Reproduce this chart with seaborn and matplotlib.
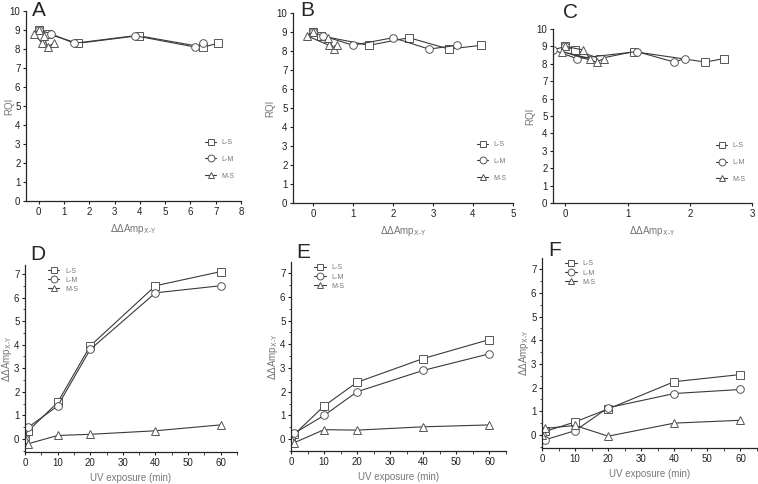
import numpy as np
import pandas as pd
import matplotlib
matplotlib.use("Agg")
import matplotlib.pyplot as plt
from matplotlib.ticker import MultipleLocator
import seaborn as sns

# UV exposure time points (min) and RQI measured at each time point
uv_time = [0, 1, 10, 20, 40, 60]
rqi = [9.0, 8.8, 8.3, 8.7, 8.1, 8.3]

series = ["L-S", "L-M", "M-S"]
markers = {"L-S": "s", "L-M": "o", "M-S": "^"}

# ddAmp(X-Y) per panel and pair, at each UV time point
damp_d = {
    "L-S": [0.0, 0.35, 1.55, 3.95, 6.5, 7.1],
    "L-M": [0.0, 0.5, 1.4, 3.8, 6.2, 6.5],
    "M-S": [0.0, -0.2, 0.15, 0.2, 0.35, 0.6],
}
damp_e = {
    "L-S": [0.0, 0.2, 1.4, 2.4, 3.4, 4.2],
    "L-M": [0.0, 0.25, 1.0, 2.0, 2.9, 3.6],
    "M-S": [0.0, -0.15, 0.4, 0.38, 0.52, 0.6],
}
damp_f = {
    "L-S": [0.0, 0.15, 0.55, 1.1, 2.25, 2.55],
    "L-M": [0.0, -0.2, 0.18, 1.15, 1.75, 1.92],
    "M-S": [0.0, 0.28, 0.4, -0.05, 0.5, 0.62],
}

sns.set_style("ticks")
plt.rcParams["font.family"] = ["Liberation Sans", "DejaVu Sans"]
plt.rcParams["axes.linewidth"] = 0.9

W, H = 758, 484
fig = plt.figure(figsize=(W / 100, H / 100), dpi=100)


def px_axes(x0, x1, y0, y1):
    return fig.add_axes([x0 / W, 1 - y1 / H, (x1 - x0) / W, (y1 - y0) / H])


line_col = "#3a3a3a"
label_col = "#777777"


def draw(ax, xs_by, ys_by, sort):
    for s in series:
        sns.lineplot(x=xs_by[s], y=ys_by[s], ax=ax, sort=sort, estimator=None,
                     marker=markers[s], markersize=5.5, markerfacecolor="white",
                     markeredgecolor="#555555", markeredgewidth=0.7,
                     color=line_col, linewidth=0.8, label=s)


def style(ax, letter, lx, ly):
    sns.despine(ax=ax)
    ax.tick_params(labelsize=7, length=2.5, width=0.8, pad=1.5, colors="#222222")
    ax.tick_params(which="minor", length=1.8, width=0.6)
    fig.text(lx / W, 1 - ly / H, letter, fontsize=15, va="top", ha="left")


top = [
    ("A", damp_d, (26, 241, 11, 201), (-0.5, 8), 1, (32, 1)),
    ("B", damp_e, (293, 513, 13, 203), (-0.5, 5), 1, (300, 1)),
    ("C", damp_f, (553, 752, 29, 203), (-0.2, 3), 1, (563, 3)),
]
for letter, damp, box, xlim, step, lpos in top:
    ax = px_axes(*box)
    draw(ax, damp, {s: rqi for s in series}, False)
    ax.set_xlim(*xlim)
    ax.set_ylim(0, 10)
    ax.xaxis.set_major_locator(MultipleLocator(step))
    ax.yaxis.set_major_locator(MultipleLocator(1))
    ax.set_xlabel(r"$\Delta\Delta$Amp$_{\mathrm{X\text{-}Y}}$", fontsize=7,
                  color=label_col, labelpad=4)
    ax.set_ylabel("RQI", fontsize=7, color=label_col, labelpad=1)
    if letter == "A":
        # keep the label inside the figure edge
        ax.yaxis.set_label_coords(-12 / (box[1] - box[0]), 0.5)
    style(ax, letter, *lpos)
    ax.legend(loc="lower right", bbox_to_anchor=(1.0, 0.08), frameon=False,
              fontsize=5, labelcolor=label_col, handlelength=1.6,
              labelspacing=1.4, markerscale=0.9)

bottom = [
    ("D", damp_d, (25, 237, 265, 452), (-0.55, 7.38), (30, 245)),
    ("E", damp_e, (291, 506, 262, 451), (-0.5, 7.47), (296, 243)),
    ("F", damp_f, (542, 757, 258, 448), (-0.55, 7.47), (548, 241)),
]
for letter, damp, box, ylim, lpos in bottom:
    ax = px_axes(*box)
    draw(ax, {s: uv_time for s in series}, damp, True)
    ax.set_xlim(0, 65)
    ax.set_ylim(*ylim)
    ax.xaxis.set_major_locator(MultipleLocator(10))
    ax.xaxis.set_minor_locator(MultipleLocator(5))
    ax.yaxis.set_major_locator(MultipleLocator(1))
    ax.yaxis.set_minor_locator(MultipleLocator(0.5))
    ax.set_xlabel("UV exposure (min)", fontsize=7, color=label_col, labelpad=4)
    ax.set_ylabel(r"$\Delta\Delta$Amp$_{\mathrm{X\text{-}Y}}$", fontsize=7,
                  color=label_col, labelpad=0)
    style(ax, letter, *lpos)
    ax.legend(loc="upper left", bbox_to_anchor=(0.08, 1.02), frameon=False,
              fontsize=5, labelcolor=label_col, handlelength=1.6,
              labelspacing=0.3, markerscale=0.9)

fig.savefig("out.png", dpi=100)
